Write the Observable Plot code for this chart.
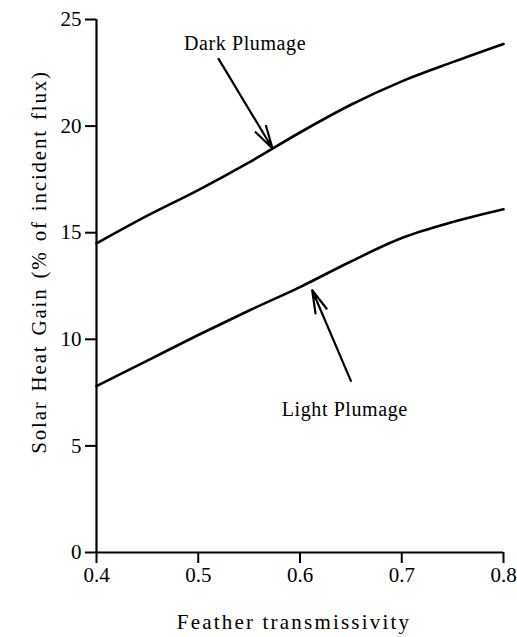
<!DOCTYPE html>
<html><head><meta charset="utf-8">
<script src="https://cdn.jsdelivr.net/npm/d3@7"></script>
<script src="https://cdn.jsdelivr.net/npm/@observablehq/plot@0.6"></script>
<style>
body{margin:0;background:#fff}
svg text{font-family:"Liberation Serif","Times New Roman",serif;fill:#000}
</style></head><body><div id="chart"></div>
<script>
const transmissivity = [0.40, 0.45, 0.50, 0.55, 0.60, 0.65, 0.70, 0.75, 0.80];
const darkGain  = [14.5, 15.8, 17.0, 18.3, 19.7, 21.0, 22.1, 23.0, 23.85];
const lightGain = [7.8, 9.0, 10.2, 11.35, 12.45, 13.65, 14.75, 15.5, 16.1];
const xTicks = [0.4, 0.5, 0.6, 0.7, 0.8];
const yTicks = [0, 5, 10, 15, 20, 25];
const xTitle = "Feather transmissivity";
const yTitle = "Solar Heat Gain (% of incident flux)";
const labelText = ["Dark Plumage", "Light Plumage"];
const labelX = [0.546, 0.644];
const labelY = [23.85, 6.7];
const arrowX1 = [0.520, 0.650];
const arrowY1 = [23.15, 8.05];
const arrowX2 = [0.573, 0.612];
const arrowY2 = [18.95, 12.3];

const lines = [];
transmissivity.forEach((t, i) => {
  lines.push({series: "Dark", x: t, y: darkGain[i]});
  lines.push({series: "Light", x: t, y: lightGain[i]});
});
const labels = labelText.map((s, i) => ({text: s, x: labelX[i], y: labelY[i]}));
const arrows = arrowX1.map((v, i) => ({x1: v, y1: arrowY1[i], x2: arrowX2[i], y2: arrowY2[i]}));

const chart = Plot.plot({
  width: 517,
  height: 637,
  marginLeft: 96,
  marginRight: 14,
  marginTop: 19,
  marginBottom: 85,
  style: {background: "#fff", color: "#000", fontFamily: "Liberation Serif"},
  x: {domain: [0.4, 0.8]},
  y: {domain: [0, 25]},
  marks: [
    Plot.axisX({ticks: xTicks, tickFormat: d3.format(".1f"), tickSize: 11, tickPadding: 4, fontSize: 21, label: null, strokeWidth: 2}),
    Plot.axisY({ticks: yTicks, tickSize: 11, tickPadding: 4, fontSize: 21, label: null, strokeWidth: 2}),
    Plot.ruleX([0.4], {stroke: "#000", strokeWidth: 2.2}),
    Plot.ruleY([0], {stroke: "#000", strokeWidth: 2.2}),
    Plot.line(lines, {x: "x", y: "y", z: "series", curve: "monotone-x", stroke: "#000", strokeWidth: 2.6}),
    Plot.arrow(arrows, {x1: "x1", y1: "y1", x2: "x2", y2: "y2", stroke: "#000", strokeWidth: 2.2, headLength: 16, headAngle: 30}),
    Plot.text(labels, {x: "x", y: "y", text: "text", fontSize: 20}),
    Plot.text([xTitle], {text: d => d, frameAnchor: "bottom", textAnchor: "middle", lineAnchor: "middle", dx: -6, dy: 70, fontSize: 21}),
    Plot.text([yTitle], {text: d => d, frameAnchor: "left", textAnchor: "middle", lineAnchor: "middle", rotate: -90, dx: -57, dy: -24, fontSize: 21})
  ]
});
document.getElementById("chart").appendChild(chart);
// letter spacing to match the wide typesetting of the original
d3.select(chart).selectAll("text").each(function() {
  const t = this.textContent;
  if (t === xTitle) this.style.letterSpacing = "2.2px";
  else if (t === yTitle) { this.style.letterSpacing = "1.8px"; this.style.wordSpacing = "2px"; }
  else if (labelText.includes(t)) this.style.letterSpacing = "0.6px";
});
</script></body></html>
